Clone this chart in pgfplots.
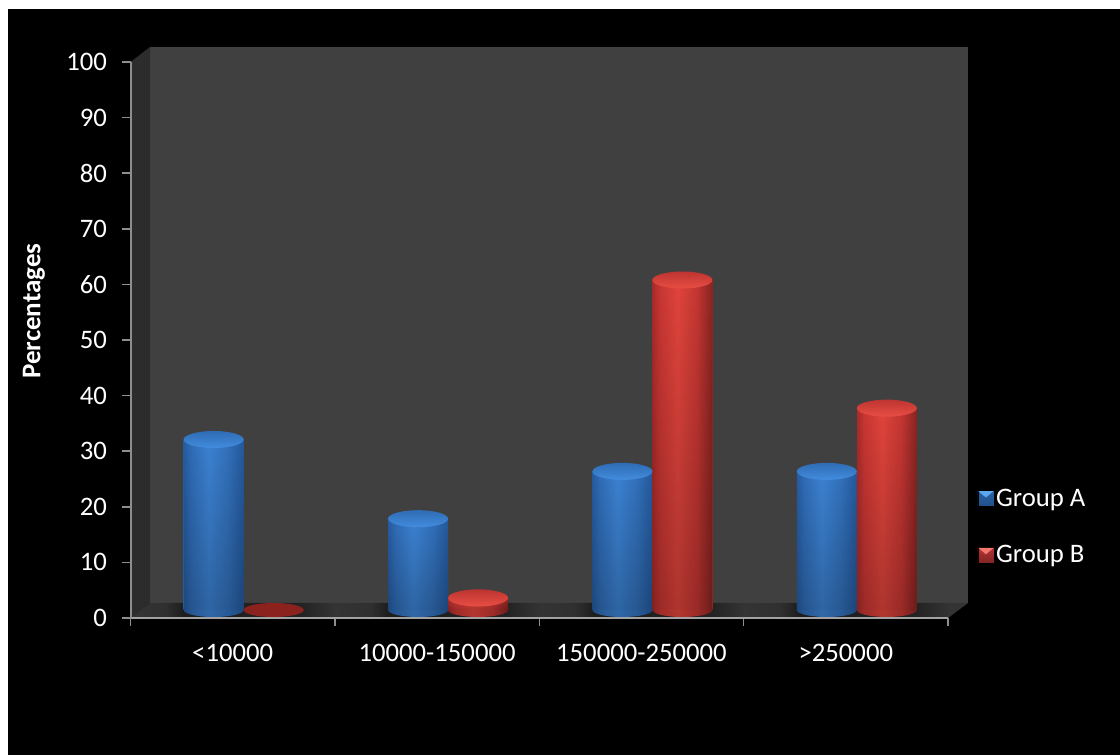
\documentclass[border=0pt]{standalone}
\usepackage{fontspec}
\setmainfont{Carlito}
\usepackage{pgfplots}
\usepackage{pgfplotstable}
\pgfplotsset{compat=1.18}
\usetikzlibrary{fadings}

% Percentages per income band
\pgfplotstableread{
x   val
0.5 31
1.5 16.6
2.5 25.2
3.5 25.2
}\groupA
\pgfplotstableread{
x   val
0.5 0
1.5 2.2
2.5 60
3.5 36.7
}\groupB

\definecolor{axisgray}{HTML}{8E8E8E}
\definecolor{axisgrayx}{HTML}{A2A2A2}
\definecolor{wallback}{HTML}{404040}
\definecolor{wallside}{HTML}{2C2C2C}
\definecolor{fl}{HTML}{343434}
\definecolor{flm}{HTML}{303030}
\definecolor{fd}{HTML}{1E1E1E}
\definecolor{fr}{HTML}{232323}

\definecolor{aL}{RGB}{38,92,160}
\definecolor{aLm}{RGB}{48,108,182}
\definecolor{aM}{RGB}{60,130,210}
\definecolor{aRm}{RGB}{50,112,186}
\definecolor{aR}{RGB}{36,88,154}
\definecolor{bL}{RGB}{168,44,44}
\definecolor{bLm}{RGB}{200,54,50}
\definecolor{bM}{RGB}{224,68,60}
\definecolor{bRm}{RGB}{196,54,50}
\definecolor{bR}{RGB}{136,36,34}
\definecolor{aTop}{RGB}{47,108,180}
\definecolor{aRim}{RGB}{66,140,222}
\definecolor{bTop}{RGB}{190,52,48}
\definecolor{bRim}{RGB}{232,78,68}
\definecolor{bFlat}{RGB}{140,34,30}
\definecolor{aKey}{RGB}{42,98,166}
\definecolor{aKeyHi}{RGB}{92,168,240}
\definecolor{aKeyLo}{RGB}{32,80,138}
\definecolor{bKey}{RGB}{182,52,50}
\definecolor{bKeyHi}{RGB}{244,120,112}
\definecolor{bKeyLo}{RGB}{130,36,36}

% Cylinder bodies: colour runs across the width, brightest left of centre
\pgfdeclarehorizontalshading{bodyA}{100bp}{
  color(0bp)=(aL); color(25bp)=(aL); color(31bp)=(aLm); color(46bp)=(aM);
  color(62bp)=(aRm); color(75bp)=(aR); color(100bp)=(aR)}
\pgfdeclarehorizontalshading{bodyB}{100bp}{
  color(0bp)=(bL); color(25bp)=(bL); color(31bp)=(bLm); color(46bp)=(bM);
  color(62bp)=(bRm); color(75bp)=(bR); color(100bp)=(bR)}
\pgfdeclarehorizontalshading{baseA}{100bp}{
  color(0bp)=(aL!80!black); color(25bp)=(aL!80!black); color(31bp)=(aLm!80!black); color(46bp)=(aM!80!black);
  color(62bp)=(aRm!80!black); color(75bp)=(aR!80!black); color(100bp)=(aR!80!black)}
\pgfdeclarehorizontalshading{baseB}{100bp}{
  color(0bp)=(bL!80!black); color(25bp)=(bL!80!black); color(31bp)=(bLm!80!black); color(46bp)=(bM!80!black);
  color(62bp)=(bRm!80!black); color(75bp)=(bR!80!black); color(100bp)=(bR!80!black)}

% Floor: darker where the cylinders stand
\pgfdeclarehorizontalshading{floorband}{100bp}{
  color(0bp)=(fl); color(25bp)=(fl); color(27.06bp)=(flm); color(28.13bp)=(fd);
  color(35.24bp)=(fr); color(37.2bp)=(fl); color(39.3bp)=(flm); color(40.37bp)=(fd);
  color(47.48bp)=(fr); color(49.45bp)=(fl); color(51.5bp)=(flm); color(52.6bp)=(fd);
  color(59.7bp)=(fr); color(61.67bp)=(fl); color(63.76bp)=(flm); color(64.84bp)=(fd);
  color(71.94bp)=(fr); color(73.9bp)=(fl); color(100bp)=(fl)}

% Cylinder caps and feet as plot marks, tilted a little by the view
\pgfdeclareplotmark{capA}{\shade[draw=none,rotate=4,top color=aTop,middle color=aTop,bottom color=aRim] (0pt,0pt) ellipse (30pt and 8.5pt);}
\pgfdeclareplotmark{capB}{\shade[draw=none,rotate=4,top color=bTop,middle color=bTop,bottom color=bRim] (0pt,0pt) ellipse (30pt and 8.5pt);}
\pgfdeclareplotmark{footA}{\shade[draw=none,rotate=4,shading=baseA] (-30pt,0.5pt) -- (-30pt,0pt) arc (180:360:30pt and 7pt) -- (30pt,0.5pt) -- cycle;}
\pgfdeclareplotmark{footB}{\shade[draw=none,rotate=4,shading=baseB] (-30pt,0.5pt) -- (-30pt,0pt) arc (180:360:30pt and 7pt) -- (30pt,0.5pt) -- cycle;}
\pgfdeclareplotmark{flatB}{\fill[draw=none,rotate=4,bFlat] (0pt,0pt) ellipse (30pt and 7pt);}

\begin{document}
\begin{tikzpicture}[x=1pt,y=1pt]
\useasboundingbox (0,0) rectangle (1120,755);
\fill[white] (0,0) rectangle (1120,755);
\fill[black] (8,0) rectangle (1120,746);

% Walls and floor of the chart box
\fill[wallback] (150,152) rectangle (968,708);
\fill[wallside] (130.5,137) -- (150,152) -- (150,708) -- (130.5,693) -- cycle;
\shade[shading=floorband] (130.5,137) -- (948,137) -- (968,152) -- (150,152) -- cycle;

% Front plane: the axes, ticks and labels
\begin{axis}[
  at={(130.5pt,137pt)}, anchor=south west,
  scale only axis, width=817.5pt, height=556pt,
  xmin=0, xmax=4, ymin=0, ymax=100,
  axis x line*=bottom, axis y line*=left,
  x axis line style={draw=axisgrayx,line width=2.5pt,-},
  y axis line style={draw=axisgray,line width=2pt,-},
  xtick={0.5,1.5,2.5,3.5},
  xticklabels={<10000,10000-150000,150000-250000,>250000},
  minor xtick={0,1,2,3,4},
  ytick={0,10,...,100},
  tick align=outside,
  major tick length=8pt, minor tick length=8pt,
  major x tick style={draw=none},
  minor x tick style={draw=axisgray,line width=1.5pt},
  ytick style={draw=axisgray,line width=1.5pt},
  tick label style={text=white,font=\fontsize{26.7}{30}\selectfont},
  /pgf/number format/assume math mode=true,
  yticklabel style={xshift=-12pt},
  xticklabel style={yshift=-15pt},
  ylabel={Percentages},
  ylabel style={at={(axis description cs:-0.1181,0.552)},anchor=center,
    text=white,font=\fontsize{27}{30}\selectfont\bfseries},
]
\end{axis}

% Mid-depth plane: the cylinders
\begin{axis}[
  at={(141.5pt,145pt)}, anchor=south west,
  scale only axis, width=817.5pt, height=550pt,
  xmin=0, xmax=4, ymin=0, ymax=100,
  hide axis, clip=false,
  legend style={at={(1.019,0.228)},anchor=north west,draw=none,fill=none,
    text=white,font=\fontsize{26.7}{30}\selectfont,row sep=34pt},
  legend cell align=left,
]
% Group A: every cylinder is its own path so the shading spans one bar
\addplot[forget plot,only marks,mark=footA,xshift=-30pt] table[x=x,y expr=0] {\groupA};
\pgfplotsinvokeforeach{0,1,2,3}{
  \addplot[forget plot,ybar,bar width=60pt,bar shift=-30pt,draw=none,shading=bodyA,restrict x to domain=#1:#1.9] table[x=x,y=val] {\groupA};
  \addplot[forget plot,ybar,bar width=60pt,bar shift=-30pt,draw=none,fill=black,fill opacity=.22,path fading=north,restrict x to domain=#1:#1.9] table[x=x,y=val] {\groupA};
}
\addplot[forget plot,only marks,mark=capA,xshift=-30pt] table[x=x,y=val] {\groupA};
% Group B: the empty first band shows only a flat disc
\addplot[forget plot,only marks,mark=footB,xshift=30pt,restrict x to domain=1:4] table[x=x,y expr=0] {\groupB};
\addplot[forget plot,only marks,mark=flatB,xshift=30pt,restrict y to domain=-1:0.1] table[x=x,y=val] {\groupB};
\pgfplotsinvokeforeach{1,2,3}{
  \addplot[forget plot,ybar,bar width=60pt,bar shift=30pt,draw=none,shading=bodyB,restrict x to domain=#1:#1.9] table[x=x,y=val] {\groupB};
  \addplot[forget plot,ybar,bar width=60pt,bar shift=30pt,draw=none,fill=black,fill opacity=.22,path fading=north,restrict x to domain=#1:#1.9] table[x=x,y=val] {\groupB};
}
\addplot[forget plot,only marks,mark=capB,xshift=30pt,restrict y to domain=0.1:100] table[x=x,y=val] {\groupB};
% Legend keys
\addlegendimage{legend image code/.code={
  \shade[top color=aKey,bottom color=aKeyLo] (0pt,-8pt) rectangle (16pt,8pt);
  \fill[aKeyHi] (1pt,7pt) -- (15pt,7pt) -- (8pt,1pt) -- cycle;
}}
\addlegendentry{Group A}
\addlegendimage{legend image code/.code={
  \shade[top color=bKey,bottom color=bKeyLo] (0pt,-8pt) rectangle (16pt,8pt);
  \fill[bKeyHi] (1pt,7pt) -- (15pt,7pt) -- (8pt,1pt) -- cycle;
}}
\addlegendentry{Group B}
\end{axis}
\end{tikzpicture}
\end{document}
